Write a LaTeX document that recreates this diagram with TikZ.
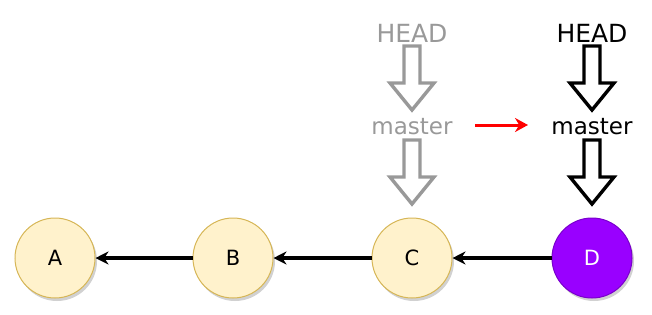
\documentclass[tikz,border=0pt]{standalone}
\usepackage{fontspec}
\setmainfont{DejaVu Sans}
\usetikzlibrary{arrows.meta,shadows}
\definecolor{cfill}{HTML}{FFF2CC}
\definecolor{cdraw}{HTML}{D6B656}
\definecolor{pfill}{HTML}{9900FF}
\definecolor{pdraw}{HTML}{7A00CC}
\definecolor{gtext}{HTML}{999999}
\begin{document}
\begin{tikzpicture}[x=1pt,y=-1pt,
  commit/.style={circle,minimum size=80pt,inner sep=0pt,line width=1pt,
    font=\fontsize{21}{21}\selectfont,
    drop shadow={shadow xshift=2pt,shadow yshift=-3pt,fill=black!30,opacity=0.6}},
  plain/.style={commit,fill=cfill,draw=cdraw},
  lbl/.style={font=\fontsize{25}{25}\selectfont,inner sep=0pt,anchor=base},
  link/.style={line width=3.4pt,-{Stealth[length=13pt,width=13pt]}},
  pics/blockarrow/.style={code={
    \draw[line width=3.4pt,line join=miter,fill=white,#1]
      (-8,0) -- (-8,37) -- (-22,37) -- (0,64) -- (22,37) -- (8,37) -- (8,0) -- cycle;}}
]
\useasboundingbox (0,0) rectangle (652,314);
\node[plain] (A) at (55,258) {A};
\node[plain] (B) at (233,258) {B};
\node[plain] (C) at (412,258) {C};
\node[commit,fill=pfill,draw=pdraw,text=white] (D) at (592,258) {D};
\draw[link] (B.west) -- (A.east);
\draw[link] (C.west) -- (B.east);
\draw[link] (D.west) -- (C.east);

\node[lbl,text=gtext] (oh) at (412,42) {HEAD};
\node[lbl,text=gtext,font=\fontsize{23}{23}\selectfont] (om) at (412,134) {master};
\node[lbl] (nh) at (592,42) {HEAD};
\node[lbl,font=\fontsize{23}{23}\selectfont] (nm) at (592,134) {master};

\coordinate (a1) at ([yshift=-4pt]oh.base);
\coordinate (a2) at ([yshift=-6pt]om.base);
\coordinate (a3) at ([yshift=-4pt]nh.base);
\coordinate (a4) at ([yshift=-6pt]nm.base);
\pic at (a1) {blockarrow={draw=gtext}};
\pic at (a2) {blockarrow={draw=gtext}};
\pic at (a3) {blockarrow={draw=black}};
\pic at (a4) {blockarrow={draw=black}};

\coordinate (r1) at ([xshift=63pt,yshift=9pt]om.base);
\coordinate (r2) at ([xshift=116pt,yshift=9pt]om.base);
\draw[red,line width=3pt,-{Stealth[length=13pt,width=14pt]}] (r1) -- (r2);
\end{tikzpicture}
\end{document}
